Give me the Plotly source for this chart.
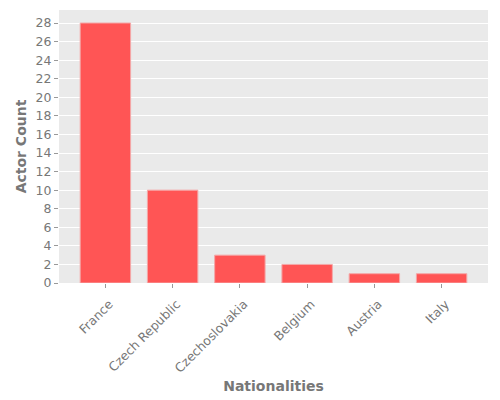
import plotly.graph_objects as go

# nationality counts
nationalities = ["France", "Czech Republic", "Czechoslovakia", "Belgium", "Austria", "Italy"]
actor_counts = [28, 10, 3, 2, 1, 1]
y_ticks = list(range(0, 29, 2))

fig = go.Figure()

fig.add_trace(go.Bar(
    x=nationalities,
    y=actor_counts,
    width=0.75,
    marker=dict(color="#FF5555", line=dict(color="#F4A8A8", width=1)),
    hovertemplate="%{x}<br>Actors: %{y}<extra></extra>"
))

# page body has an 8px margin, so the margins are shifted to compensate
fig.update_layout(
    width=500,
    height=400,
    margin=dict(l=51, r=20, t=2, b=125),
    paper_bgcolor="white",
    plot_bgcolor="#EAEAEA",
    font=dict(family="DejaVu Sans", color="#777777", size=12),
    showlegend=False,
    xaxis=dict(
        range=[-0.69, 5.69],
        tickangle=-45,
        ticks="outside",
        ticklen=4,
        tickcolor="#999999",
        ticklabelshift=4,
        ticklabelstandoff=4,
        showgrid=False,
        zeroline=False,
        tickfont=dict(size=12.5, color="#777777"),
        title=dict(text="<b>Nationalities</b>", standoff=6,
                   font=dict(size=14, color="#777777")),
        automargin=False,
    ),
    yaxis=dict(
        range=[0, 29.4],
        tickvals=y_ticks,
        ticks="outside",
        ticklen=4,
        tickcolor="#999999",
        showgrid=True,
        gridcolor="white",
        gridwidth=1,
        zeroline=False,
        tickfont=dict(size=12.5, color="#777777"),
        title=dict(text="<b>Actor Count</b>", standoff=5,
                   font=dict(size=14, color="#777777")),
        automargin=False,
    ),
)

fig.write_html("out.html")
